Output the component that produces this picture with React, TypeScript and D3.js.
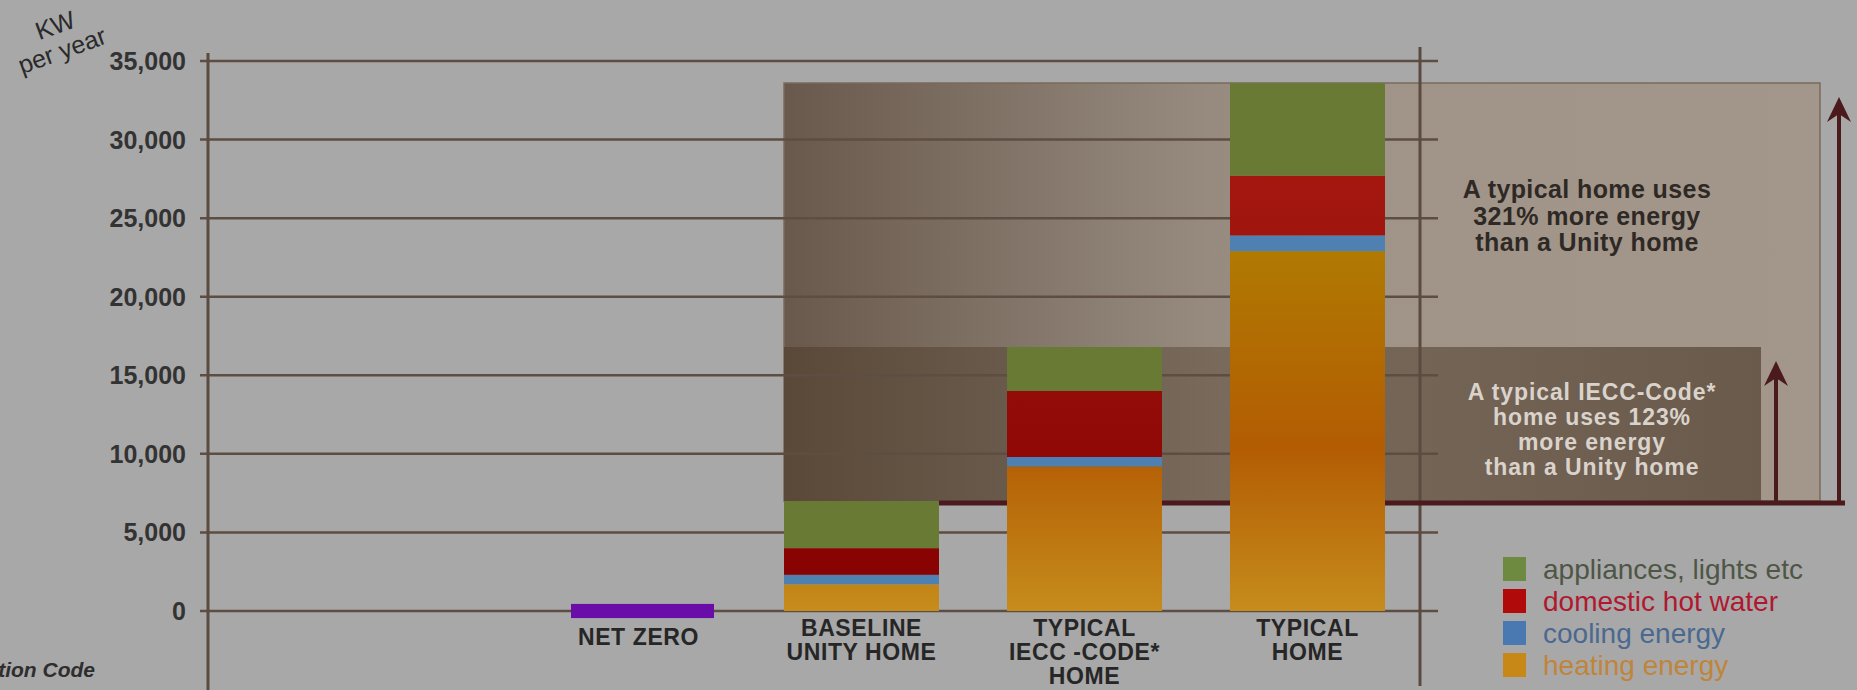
import React from "react";
import * as d3 from "d3";

const categories = ["netzero", "baseline", "iecc", "typical"];
const categoryLabels = [["NET ZERO"], ["BASELINE", "UNITY HOME"], ["TYPICAL", "IECC -CODE*", "HOME"], ["TYPICAL", "HOME"]];
const heating = [0, 1700, 9200, 22900];
const cooling = [0, 600, 600, 1000];
const hotWater = [0, 1700, 4200, 3800];
const appliances = [0, 3000, 2800, 5900];
const netZeroRange = [-450, 450];
const yTicks = [0, 5000, 10000, 15000, 20000, 25000, 30000, 35000];
const legendLabels = ["appliances, lights etc", "domestic hot water", "cooling energy", "heating energy"];
const noteTypical = ["A typical home uses", "321% more energy", "than a Unity home"];
const noteIecc = ["A typical IECC-Code*", "home uses 123%", "more energy", "than a Unity home"];

const W = 1857;
const H = 690;
const FONT = "'Liberation Sans', Arial, sans-serif";

export default function App() {
  const y = d3.scaleLinear().domain([0, 35000]).range([611, 61]);
  const x = d3.scaleBand().domain(categories).range([449.5, 1496.5]).paddingInner(0.305).paddingOuter(0.5);
  const bw = x.bandwidth();
  const fmt = d3.format(",");

  const seriesKeys = ["heating", "cooling", "hotWater", "appliances"];
  const rows = categories.map((c, i) => ({
    cat: c,
    heating: heating[i],
    cooling: cooling[i],
    hotWater: hotWater[i],
    appliances: appliances[i],
  }));
  const stacked = d3.stack<any>().keys(seriesKeys)(rows);
  const fills: Record<string, string> = {
    heating: "url(#orangeGrad)",
    cooling: "#4f80b2",
    hotWater: "url(#redGrad)",
    appliances: "#687a34",
  };
  const totals = rows.map((r) => r.heating + r.cooling + r.hotWater + r.appliances);
  const unity = totals[1];
  const unityY = y(unity);
  const leftX = x("baseline")!;

  const legendSwatch = ["#6e8a40", "#b00a0a", "#4a78b0", "#c88818"];
  const legendText = ["#4e5646", "#b01830", "#4a6890", "#c0843a"];

  const arrow = (ax: number, tipY: number) =>
    `M${ax},${tipY} L${ax - 12},${tipY + 25} L${ax},${tipY + 17} L${ax + 12},${tipY + 25} Z`;

  const bigTop = y(totals[3]);
  const smallTop = y(totals[2]);

  return (
    <svg width={W} height={H} style={{ position: "absolute", left: 0, top: 0, display: "block" }}>
      <defs>
        <linearGradient id="bigGrad" x1="0" x2="1" y1="0" y2="0">
          <stop offset="0" stopColor="#69594c" />
          <stop offset="0.4" stopColor="#968a7e" />
          <stop offset="0.55" stopColor="#a09488" />
          <stop offset="1" stopColor="#a3978b" />
        </linearGradient>
        <linearGradient id="smallGrad" x1="0" x2="1" y1="0" y2="0">
          <stop offset="0" stopColor="#5a4939" />
          <stop offset="0.45" stopColor="#796a5c" />
          <stop offset="1" stopColor="#6a5a4c" />
        </linearGradient>
        <linearGradient id="orangeGrad" gradientUnits="userSpaceOnUse" x1="0" x2="0" y1="250" y2="611">
          <stop offset="0" stopColor="#b07a02" />
          <stop offset="0.55" stopColor="#b35c03" />
          <stop offset="1" stopColor="#c68c1c" />
        </linearGradient>
        <linearGradient id="redGrad" gradientUnits="userSpaceOnUse" x1="0" x2="0" y1="170" y2="580">
          <stop offset="0" stopColor="#a41810" />
          <stop offset="1" stopColor="#870202" />
        </linearGradient>
      </defs>
      <rect x={0} y={0} width={W} height={H} fill="#a8a8a8" />

      {/* comparison rectangles */}
      <rect x={leftX} y={bigTop} width={1820 - leftX} height={unityY - bigTop} fill="url(#bigGrad)" stroke="#7a6a5e" strokeWidth={1.5} />
      <rect x={leftX} y={smallTop} width={1761 - leftX} height={unityY - smallTop} fill="url(#smallGrad)" />

      {/* grid lines */}
      {yTicks.map((t) => (
        <line key={t} x1={200} x2={1438} y1={y(t)} y2={y(t)} stroke="#5e4d42" strokeWidth={2.5} />
      ))}
      <line x1={208} x2={208} y1={53} y2={690} stroke="#5b4a3f" strokeWidth={3} />
      <line x1={1420} x2={1420} y1={47} y2={686} stroke="#5b4a3f" strokeWidth={3} />

      {/* tick labels */}
      {yTicks.map((t) => (
        <text key={t} x={186} y={y(t)} dy="0.36em" textAnchor="end" fontFamily={FONT} fontWeight="bold" fontSize={25} fill="#333333">
          {fmt(t)}
        </text>
      ))}

      {/* baseline line and arrows */}
      <line x1={leftX + bw} x2={1845} y1={unityY + 2} y2={unityY + 2} stroke="#4a1a1c" strokeWidth={5} />
      <line x1={1776} x2={1776} y1={unityY} y2={smallTop + 20} stroke="#4a1a1c" strokeWidth={4} />
      <path d={arrow(1776, smallTop + 14)} fill="#4a1a1c" />
      <line x1={1839} x2={1839} y1={unityY + 4} y2={bigTop + 25} stroke="#4a1a1c" strokeWidth={4} />
      <path d={arrow(1839, bigTop + 14)} fill="#4a1a1c" />

      {/* bars */}
      {stacked.map((s) => (
        <g key={s.key}>
          {s.map((d, i) =>
            d[1] - d[0] > 0 ? (
              <rect key={i} x={x(categories[i])} y={y(d[1])} width={bw} height={y(d[0]) - y(d[1])} fill={fills[s.key]} />
            ) : null
          )}
        </g>
      ))}
      <rect x={x("netzero")! + 10} y={y(netZeroRange[1])} width={bw - 12} height={y(netZeroRange[0]) - y(netZeroRange[1])} fill="#6a0ca8" />

      {/* category labels */}
      {categories.map((c, i) => (
        <text key={c} textAnchor="middle" fontFamily={FONT} fontWeight="bold" fontSize={23} letterSpacing={0.6} fill="#262626">
          {categoryLabels[i].map((l, j) => (
            <tspan key={j} x={x(c)! + bw / 2} y={i === 0 ? 645 : 636 + j * 24}>
              {l}
            </tspan>
          ))}
        </text>
      ))}

      {/* annotations */}
      <text textAnchor="middle" fontFamily={FONT} fontWeight="bold" fontSize={25} letterSpacing={0.4} fill="#2f2925">
        {noteTypical.map((l, j) => (
          <tspan key={j} x={1587} y={198 + j * 26.5}>{l}</tspan>
        ))}
      </text>
      <text textAnchor="middle" fontFamily={FONT} fontWeight="bold" fontSize={23} letterSpacing={0.9} fill="#dad3cc">
        {noteIecc.map((l, j) => (
          <tspan key={j} x={1592} y={400 + j * 25}>{l}</tspan>
        ))}
      </text>

      {/* legend */}
      {legendLabels.map((l, i) => (
        <g key={l} transform={`translate(1503, ${569 + i * 32})`}>
          <rect x={0} y={-12} width={23} height={24} fill={legendSwatch[i]} />
          <text x={40} y={0} dy="0.36em" fontFamily={FONT} fontSize={28} fill={legendText[i]}>
            {l}
          </text>
        </g>
      ))}

      {/* axis title */}
      <text x={55} y={25} dy="0.36em" textAnchor="middle" transform="rotate(-20 55 25)" fontFamily={FONT} fontSize={25} fill="#2a2a2a">
        KW
      </text>
      <text x={62} y={50} dy="0.36em" textAnchor="middle" transform="rotate(-20 62 50)" fontFamily={FONT} fontSize={25} fill="#2a2a2a">
        per year
      </text>

      {/* footnote */}
      <text x={95} y={669} dy="0.36em" textAnchor="end" fontFamily={FONT} fontStyle="italic" fontWeight="bold" fontSize={21} fill="#2e2e2e">
        *International Energy Conservation Code
      </text>
    </svg>
  );
}
